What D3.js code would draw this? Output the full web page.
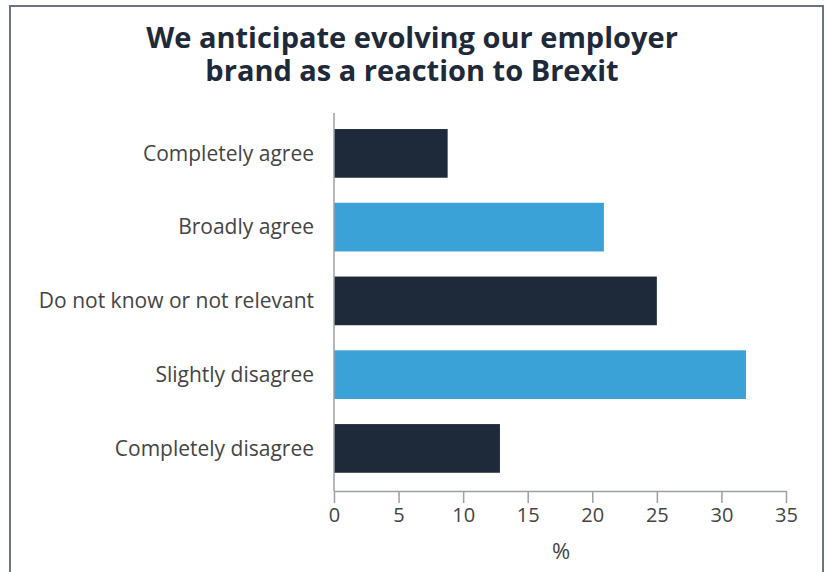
<!DOCTYPE html>
<html>
<head>
<meta charset="utf-8">
<script src="https://cdn.jsdelivr.net/npm/d3@7"></script>
<style>
  html, body { margin: 0; padding: 0; background: #fff; }
  svg { display: block; font-family: "Open Sans", sans-serif; }
</style>
</head>
<body>
<svg id="chart" width="826" height="572"></svg>
<script>
const titleLines = ["We anticipate evolving our employer", "brand as a reaction to Brexit"];
const categories = ["Completely agree", "Broadly agree", "Do not know or not relevant", "Slightly disagree", "Completely disagree"];
const values = [8.8, 20.9, 25.0, 31.9, 12.85];
const barColors = ["#1e293a", "#3aa2d6", "#1e293a", "#3aa2d6", "#1e293a"];
const xTicks = [0, 5, 10, 15, 20, 25, 30, 35];
const xAxisTitle = "%";

const svg = d3.select("#chart");

// frame
svg.append("rect")
  .attr("x", 10).attr("y", 6)
  .attr("width", 813).attr("height", 580)
  .attr("fill", "none")
  .attr("stroke", "#6b7280")
  .attr("stroke-width", 2);

// title
svg.append("text")
  .attr("x", 412).attr("y", 48)
  .attr("text-anchor", "middle")
  .attr("font-weight", 700)
  .attr("font-size", 29)
  .attr("fill", "#1e293a")
  .selectAll("tspan")
  .data(titleLines)
  .join("tspan")
  .attr("x", 412)
  .attr("dy", (d, i) => i === 0 ? 0 : 33)
  .text(d => d);

const x = d3.scaleLinear().domain([0, 35]).range([334, 786]);
const y = d3.scaleBand().domain(categories).range([116.5, 485.3]).paddingInner(0.34).paddingOuter(0.17);

// bars
svg.append("g")
  .selectAll("rect")
  .data(categories)
  .join("rect")
  .attr("x", x(0))
  .attr("y", d => y(d))
  .attr("width", (d, i) => x(values[i]) - x(0))
  .attr("height", y.bandwidth())
  .attr("fill", (d, i) => barColors[i]);

// y axis line
svg.append("line")
  .attr("x1", x(0)).attr("x2", x(0))
  .attr("y1", 113).attr("y2", 491)
  .attr("stroke", "#9aa0a6").attr("stroke-width", 1.5);

// category labels
svg.append("g")
  .selectAll("text")
  .data(categories)
  .join("text")
  .attr("x", 314)
  .attr("y", d => y(d) + y.bandwidth() / 2)
  .attr("dy", "0.35em")
  .attr("text-anchor", "end")
  .attr("font-size", 21)
  .attr("fill", "#444")
  .text(d => d);

// x axis
const xAxis = d3.axisBottom(x).tickValues(xTicks).tickSize(12).tickPadding(5).tickSizeOuter(0);
const gx = svg.append("g").attr("transform", "translate(0,491)").call(xAxis);
gx.select(".domain").attr("stroke", "#9aa0a6").attr("stroke-width", 1.5);
gx.selectAll(".tick line").attr("stroke", "#9aa0a6").attr("stroke-width", 1.5);
gx.selectAll(".tick text")
  .attr("font-family", "Open Sans, sans-serif")
  .attr("font-size", 20)
  .attr("fill", "#444");

svg.append("text")
  .attr("x", x(17.5) + 1)
  .attr("y", 559)
  .attr("text-anchor", "middle")
  .attr("font-size", 22)
  .attr("fill", "#444")
  .text(xAxisTitle);
</script>
</body>
</html>
